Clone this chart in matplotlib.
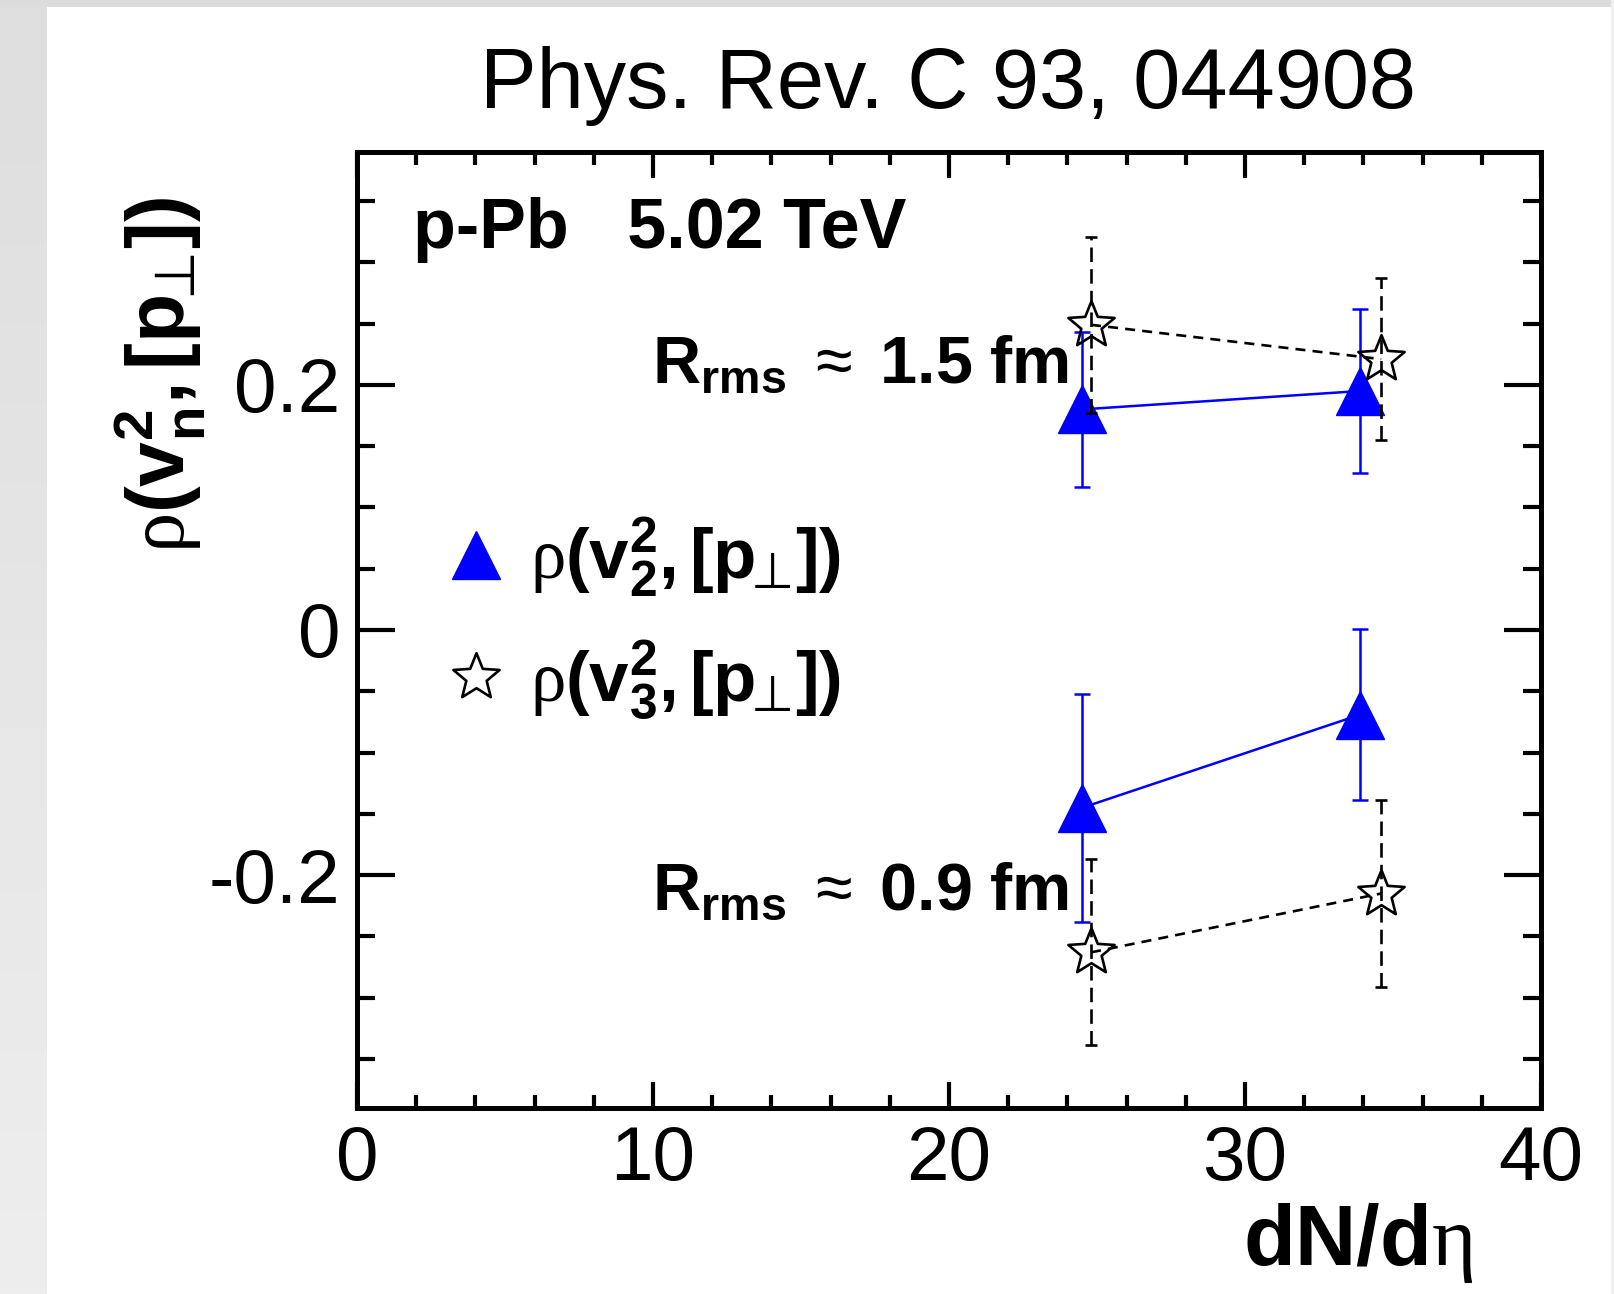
import numpy as np
import matplotlib
matplotlib.use("Agg")
import matplotlib.pyplot as plt
from matplotlib.colors import LinearSegmentedColormap
from matplotlib.lines import Line2D
from matplotlib.patches import Rectangle
from matplotlib.path import Path
from matplotlib.ticker import MultipleLocator, FixedLocator, FixedFormatter

plt.rcParams["font.family"] = ["Liberation Sans", "DejaVu Sans"]
plt.rcParams["mathtext.fontset"] = "custom"
plt.rcParams["mathtext.rm"] = "Liberation Sans"
plt.rcParams["mathtext.bf"] = "Liberation Sans:bold"
plt.rcParams["mathtext.it"] = "Liberation Serif"
plt.rcParams["mathtext.sf"] = "DejaVu Sans"
plt.rcParams["mathtext.fallback"] = "stixsans"

# dN/deta of the two multiplicity classes (v3 points slightly shifted)
mult_v2 = [24.5, 33.9]
mult_v3 = [24.8, 34.6]

# R_rms ~ 1.5 fm
rho_v2_large = [0.180, 0.195]
err_v2_large = [0.063, 0.067]
rho_v3_large = [0.249, 0.221]
err_v3_large = [0.072, 0.066]

# R_rms ~ 0.9 fm
rho_v2_small = [-0.145, -0.069]
err_v2_small = [0.093, 0.070]
rho_v3_small = [-0.263, -0.215]
err_v3_small = [0.076, 0.076]

x_ticks = [0, 10, 20, 30, 40]
x_tick_labels = ["0", "10", "20", "30", "40"]
y_ticks = [-0.2, 0.0, 0.2]
y_tick_labels = ["-0.2", "0", "0.2"]

W, H = 1614, 1294
fig = plt.figure(figsize=(W / 100, H / 100), dpi=100, facecolor="white")

# page backdrop: grey strip on the left and along the top
strip = fig.add_axes([0, 0, 47 / W, 1], zorder=-5)
strip.set_axis_off()
cmap = LinearSegmentedColormap.from_list("strip", ["#dedede", "#eeeeee"])
strip.imshow(np.linspace(0, 1, 256)[:, None], cmap=cmap, aspect="auto",
             extent=[0, 1, 0, 1], origin="upper")
fig.patches.append(Rectangle((0, 1 - 7 / H), 1, 7 / H, transform=fig.transFigure,
                             facecolor="#dcdcdc", edgecolor="none", zorder=-4))
fig.patches.append(Rectangle((1611 / W, 0), 3 / W, 1, transform=fig.transFigure,
                             facecolor="#efefef", edgecolor="none", zorder=-4))

ax = fig.add_axes([357 / W, 1 - 1108 / H, (1541 - 357) / W, (1108 - 152) / H])
ax.set_xlim(0, 40)
ax.set_ylim(-0.39, 0.39)

for sp in ax.spines.values():
    sp.set_linewidth(3.6)

ax.xaxis.set_major_locator(FixedLocator(x_ticks))
ax.xaxis.set_major_formatter(FixedFormatter(x_tick_labels))
ax.xaxis.set_minor_locator(MultipleLocator(2))
ax.yaxis.set_major_locator(FixedLocator(y_ticks))
ax.yaxis.set_major_formatter(FixedFormatter(y_tick_labels))
ax.yaxis.set_minor_locator(MultipleLocator(0.05))

ax.tick_params(which="both", direction="in", top=True, right=True, width=3.0,
               labelsize=55, colors="black")
ax.tick_params(axis="x", which="major", length=19, pad=12)
ax.tick_params(axis="x", which="minor", length=9.5)
ax.tick_params(axis="y", which="major", length=27, pad=12)
ax.tick_params(axis="y", which="minor", length=13)

# a slightly plump five-pointed star
star_path = Path.unit_regular_star(5, innerCircle=0.44)

blue = "#0000ff"
tri_style = dict(marker="^", ms=34.5, color=blue, mec=blue, ls="-", lw=1.8,
                 elinewidth=1.8, capsize=6, capthick=1.8, zorder=3)
star_style = dict(marker=star_path, ms=35, mfc="none", mec="black", mew=1.9,
                  color="black", ls=(0, (3.8, 2.7)), lw=1.9, elinewidth=1.9,
                  capsize=4, capthick=1.9, zorder=4)

for y, e in [(rho_v2_large, err_v2_large), (rho_v2_small, err_v2_small)]:
    ax.errorbar(mult_v2, y, yerr=e, **tri_style)

for y, e in [(rho_v3_large, err_v3_large), (rho_v3_small, err_v3_small)]:
    eb = ax.errorbar(mult_v3, y, yerr=e, **star_style)
    for lc in eb[2]:
        lc.set_linestyle((0, (5.5, 2.7)))

# texts
fig.text(948 / W, 1 - 108 / H, "Phys. Rev. C 93, 044908", ha="center",
         va="baseline", fontsize=61)
fig.text(413 / W, 1 - 248 / H, "p-Pb   5.02 TeV", ha="left", va="baseline",
         fontsize=50.5, fontweight="bold")
fig.text(652 / W, 1 - 382 / H, r"$\mathbf{R_{rms}}\ \approx\ \mathbf{1.5\ fm}$",
         ha="left", va="baseline", fontsize=48)
fig.text(652 / W, 1 - 909 / H, r"$\mathbf{R_{rms}}\ \approx\ \mathbf{0.9\ fm}$",
         ha="left", va="baseline", fontsize=48)

fig.text(1473 / W, 1 - 1265 / H, r"$\mathbf{dN/d}\eta$", ha="right",
         va="baseline", fontsize=61)
fig.text(160 / W, 1 - 375 / H,
         r"$\rho\mathbf{(v^{2}_{n},[p}_{\!\mathsf{⊥}}\mathbf{])}$",
         rotation=90, ha="center", va="center", fontsize=58)

# legend
handles = [
    Line2D([], [], marker="^", ls="none", ms=34.5, color=blue),
    Line2D([], [], marker=star_path, ls="none", ms=35, mfc="none", mec="black",
           mew=1.9),
]
labels = [
    r"$\rho\mathbf{(v^{2}_{2},[p}_{\!\mathsf{⊥}}\mathbf{])}$",
    r"$\rho\mathbf{(v^{2}_{3},[p}_{\!\mathsf{⊥}}\mathbf{])}$",
]
ax.legend(handles, labels, loc="upper left", bbox_to_anchor=(440 / W, 1 - 516 / H),
          bbox_transform=fig.transFigure, frameon=False, fontsize=51,
          handlelength=1.02, handletextpad=0.25, labelspacing=0.54,
          borderpad=0, borderaxespad=0, numpoints=1)

fig.savefig("out.png", dpi=100, facecolor="white")
